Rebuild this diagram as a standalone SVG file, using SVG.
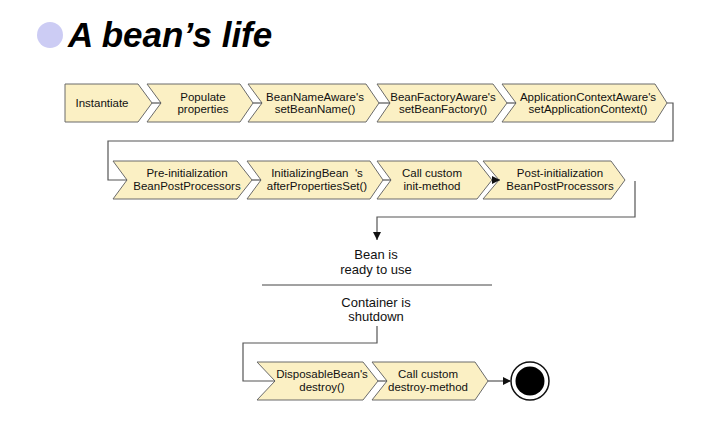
<svg xmlns="http://www.w3.org/2000/svg" width="728" height="447" viewBox="0 0 728 447">
<defs>
<style>
.box{fill:#FBF0C4;stroke:#6b6b6b;stroke-width:1}
.t{font-family:"Liberation Sans",Arial,sans-serif;font-size:11.5px;fill:#111;text-anchor:middle}
.m{font-size:13px}
.c{fill:none;stroke:#555;stroke-width:1.2}
.title{font-family:"Liberation Sans",Arial,sans-serif;font-size:35px;font-weight:bold;font-style:italic;fill:#000}
</style>
<marker id="ah" viewBox="0 0 10 10" refX="10" refY="5" markerWidth="8" markerHeight="8" markerUnits="userSpaceOnUse" orient="auto">
<path d="M0,0 L10,5 L0,10 Z" fill="#111"/>
</marker>
</defs>
<rect width="728" height="447" fill="#fff"/>
<g id="title">
<circle cx="50" cy="35" r="13" fill="#CCCCF4"/>
<text class="title" x="68" y="47">A bean’s life</text>
</g>
<g id="n-instantiate"><path class="box" d="M65,84 H138 L152,103 L138,122 H65 Z"/><text class="t" x="102" y="107">Instantiate</text></g>
<g id="n-populate"><path class="box" d="M147,84 H240 L253,103 L240,122 H147 L161,103 Z"/><text class="t" x="203" y="101">Populate</text><text class="t" x="203" y="113">properties</text></g>
<g id="n-beanname"><path class="box" d="M248,84 H366 L379,103 L366,122 H248 L262,103 Z"/><text class="t" x="315" y="101">BeanNameAware's</text><text class="t" x="315" y="113">setBeanName()</text></g>
<g id="n-beanfactory"><path class="box" d="M377,84 H493 L507,103 L493,122 H377 L390,103 Z"/><text class="t" x="443" y="101">BeanFactoryAware's</text><text class="t" x="443" y="113">setBeanFactory()</text></g>
<g id="n-appctx"><path class="box" d="M502,84 H655 L667,103 L655,122 H502 L516,103 Z"/><text class="t" x="588" y="101">ApplicationContextAware's</text><text class="t" x="588" y="113">setApplicationContext()</text></g>
<g id="n-preinit"><path class="box" d="M113,161 H237 L252,180 L237,199 H113 L127,180 Z"/><text class="t" x="187" y="177">Pre-initialization</text><text class="t" x="187" y="190">BeanPostProcessors</text></g>
<g id="n-initbean"><path class="box" d="M247,161 H370 L383,180 L370,199 H247 L261,180 Z"/><text class="t" x="317" y="177" xml:space="preserve">InitializingBean  's</text><text class="t" x="317" y="190">afterPropertiesSet()</text></g>
<g id="n-initmethod"><path class="box" d="M377,161 H477 L492,180 L477,199 H377 L391,180 Z"/><text class="t" x="432" y="177">Call custom</text><text class="t" x="432" y="190">init-method</text></g>
<g id="n-postinit"><path class="box" d="M483,161 H611 L625,180 L611,199 H483 L499,180 Z"/><text class="t" x="560" y="177">Post-initialization</text><text class="t" x="560" y="190">BeanPostProcessors</text></g>
<g id="n-ready"><text class="t m" x="376" y="259">Bean is</text><text class="t m" x="376" y="274">ready to use</text></g>
<g id="n-shutdown"><text class="t m" x="376" y="307">Container is</text><text class="t m" x="376" y="321">shutdown</text></g>
<g id="n-disposable"><path class="box" d="M257,362 H363 L378,381 L363,400 H257 L275,381 Z"/><text class="t" x="322" y="378">DisposableBean's</text><text class="t" x="322" y="391">destroy()</text></g>
<g id="n-destroymethod"><path class="box" d="M372,362 H475 L488,381 L475,400 H372 L387,381 Z"/><text class="t" x="428" y="378">Call custom</text><text class="t" x="428" y="391">destroy-method</text></g>
<g id="n-end"><circle cx="530" cy="381" r="19" fill="#fff" stroke="#111" stroke-width="1.5"/><circle cx="530" cy="381" r="14.5" fill="#000"/></g>
<g id="connectors">
<line class="c" x1="152" y1="103" x2="161" y2="103"/>
<line class="c" x1="253" y1="103" x2="262" y2="103"/>
<line class="c" x1="379" y1="103" x2="390" y2="103"/>
<line class="c" x1="507" y1="103" x2="516" y2="103"/>
<path class="c" d="M667,103 H673 V141 H108 V180 H127"/>
<line class="c" x1="252" y1="180" x2="261" y2="180"/>
<line class="c" x1="383" y1="180" x2="391" y2="180"/>
<line class="c" x1="492" y1="180" x2="500" y2="180" marker-end="url(#ah)"/>
<path class="c" d="M635,181 V217 H377 V240" marker-end="url(#ah)"/>
<line x1="262" y1="285" x2="492" y2="285" stroke="#444" stroke-width="1"/>
<path class="c" d="M377,326 V343 H243 V381 H275"/>
<line class="c" x1="378" y1="381" x2="387" y2="381"/>
<line class="c" x1="488" y1="381" x2="511" y2="381" marker-end="url(#ah)"/>
</g>
</svg>
